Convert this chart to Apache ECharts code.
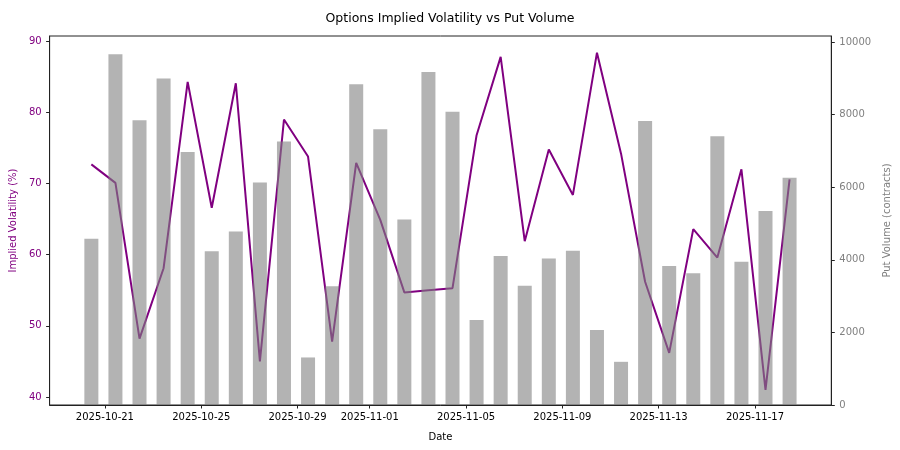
<!DOCTYPE html>
<html>
<head>
<meta charset="utf-8">
<title>Options Implied Volatility vs Put Volume</title>
<script src="https://cdn.jsdelivr.net/npm/echarts@6/dist/echarts.min.js"></script>
<style>
    html, body { margin: 0; padding: 0; background: #fff; }
    #iv_put_chart { width: 900px; height: 450px; }
</style>
</head>
<body>
<div id="iv_put_chart"></div>
<script>
// daily observations (taken mid-morning each day)
var dates = [
    '2025-10-20', '2025-10-21', '2025-10-22', '2025-10-23', '2025-10-24',
    '2025-10-25', '2025-10-26', '2025-10-27', '2025-10-28', '2025-10-29',
    '2025-10-30', '2025-10-31', '2025-11-01', '2025-11-02', '2025-11-03',
    '2025-11-04', '2025-11-05', '2025-11-06', '2025-11-07', '2025-11-08',
    '2025-11-09', '2025-11-10', '2025-11-11', '2025-11-12', '2025-11-13',
    '2025-11-14', '2025-11-15', '2025-11-16', '2025-11-17', '2025-11-18'
];
var impliedVol = [
    72.7, 70.1, 48.2, 58.1, 84.3, 66.6, 84.1, 45.0, 79.0, 73.8,
    47.8, 72.9, 64.9, 54.7, 55.0, 55.3, 76.8, 87.8, 61.9, 74.8,
    68.4, 88.4, 74.2, 56.2, 46.2, 63.6, 59.6, 72.0, 41.0, 70.6
];
var putVolume = [
    4580, 9670, 7850, 9000, 6970, 4240, 4780, 6130, 7260, 1310,
    3270, 8840, 7600, 5110, 9180, 8080, 2340, 4110, 3290, 4040,
    4250, 2070, 1190, 7830, 3830, 3630, 7410, 3950, 5350, 6260
];
var xTickLabels = ['2025-10-21', '2025-10-25', '2025-10-29', '2025-11-01', '2025-11-05', '2025-11-09', '2025-11-13', '2025-11-17'];
var ivTicks = [40, 50, 60, 70, 80, 90];
var volumeTicks = [0, 2000, 4000, 6000, 8000, 10000];

var DAY = 24 * 3600 * 1000;
function toTime(s, hours) {
    var p = s.split('-');
    return Date.UTC(+p[0], +p[1] - 1, +p[2]) + (hours || 0) * 3600 * 1000;
}
function fmtDate(v) {
    var d = new Date(Math.round(v));
    var m = d.getUTCMonth() + 1, day = d.getUTCDate();
    return d.getUTCFullYear() + '-' + (m < 10 ? '0' + m : m) + '-' + (day < 10 ? '0' + day : day);
}

var times = dates.map(function (d) { return toTime(d, 10.5); });
var xTicks = xTickLabels.map(function (d) { return toTime(d); });
var ivData = times.map(function (t, i) { return [t, impliedVol[i]]; });
var volData = times.map(function (t, i) { return [t, putVolume[i]]; });

var t0 = toTime(dates[0]);
var chart = echarts.init(document.getElementById('iv_put_chart'));
var font = 'DejaVu Sans';

var option = {
    animation: false,
    textStyle: { fontFamily: font },
    title: {
        text: 'Options Implied Volatility vs Put Volume',
        left: 'center',
        top: 7,
        textStyle: { fontFamily: font, fontSize: 12.5, fontWeight: 'normal', color: '#000' }
    },
    grid: {
        left: 47, right: 68, top: 36, bottom: 45,
        show: true, borderColor: '#222', borderWidth: 1
    },
    xAxis: {
        // dates as ms timestamps on a plain value axis, ticks placed by hand
        type: 'value',
        min: t0 - 1.296 * DAY,
        max: t0 + 31.17 * DAY,
        name: 'Date',
        nameLocation: 'middle',
        nameGap: 27,
        nameTextStyle: { fontFamily: font, fontSize: 10, color: '#000' },
        axisLine: { lineStyle: { color: '#222', width: 1 } },
        axisTick: { show: true, length: 3.5, lineStyle: { color: '#222' }, customValues: xTicks },
        axisLabel: {
            fontFamily: font, fontSize: 10, color: '#000', margin: 7,
            customValues: xTicks,
            formatter: function (v) { return fmtDate(v); }
        },
        splitLine: { show: false }
    },
    yAxis: [
        {
            type: 'value',
            position: 'left',
            min: 38.88,
            max: 90.74,
            name: 'Implied Volatility (%)',
            nameLocation: 'middle',
            nameGap: 31,
            nameTextStyle: { fontFamily: font, fontSize: 10, color: 'purple' },
            axisLine: { show: true, lineStyle: { color: '#222' } },
            axisTick: { show: true, length: 3.5, lineStyle: { color: '#222' }, customValues: ivTicks },
            axisLabel: { fontFamily: font, fontSize: 10, color: 'purple', margin: 8, customValues: ivTicks },
            splitLine: { show: false }
        },
        {
            type: 'value',
            position: 'right',
            min: 0,
            max: 10170,
            name: 'Put Volume (contracts)',
            nameLocation: 'middle',
            nameGap: 49,
            nameTextStyle: { fontFamily: font, fontSize: 10, color: 'gray' },
            axisLine: { show: true, lineStyle: { color: '#222' } },
            axisTick: { show: true, length: 3.5, lineStyle: { color: '#222' }, customValues: volumeTicks },
            axisLabel: {
                fontFamily: font, fontSize: 10, color: 'gray', margin: 8,
                customValues: volumeTicks,
                formatter: function (v) { return String(v); }
            },
            splitLine: { show: false }
        }
    ],
    series: [
        {
            name: 'Implied Volatility',
            type: 'line',
            yAxisIndex: 0,
            data: ivData,
            showSymbol: false,
            symbol: 'none',
            lineStyle: { color: 'purple', width: 2 },
            z: 1
        },
        {
            name: 'Put Volume',
            type: 'bar',
            yAxisIndex: 1,
            data: volData,
            barWidth: 14,
            itemStyle: { color: 'rgba(128,128,128,0.6)' },
            z: 2
        }
    ]
};
chart.setOption(option);
window.addEventListener('resize', function () {
    chart.resize();
});
</script>
</body>
</html>
